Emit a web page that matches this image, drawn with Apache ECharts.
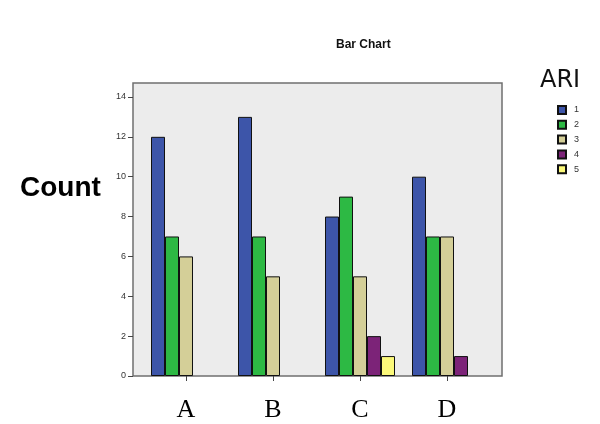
<!DOCTYPE html>
<html>
<head>
<meta charset="utf-8">
<script src="https://cdn.jsdelivr.net/npm/echarts@6/dist/echarts.min.js"></script>
<style>
  html, body { margin: 0; padding: 0; background: #fff; }
  #chart { width: 600px; height: 424px; }
</style>
</head>
<body>
<div id="chart"></div>
<script>
// groups on the x axis
const categories = ['A', 'B', 'C', 'D'];
// ARI levels
const ariNames = ['1', '2', '3', '4', '5'];
const ari1 = [12, 13, 8, 10];
const ari2 = [7, 7, 9, 7];
const ari3 = [6, 5, 5, 7];
const ari4 = ['-', '-', 2, 1];
const ari5 = ['-', '-', 1, '-'];
const yTicks = [0, 2, 4, 6, 8, 10, 12, 14];

const colors = ['#3d55a9', '#2db944', '#d4cf98', '#7c2378', '#fbf97a'];
const seriesData = [ari1, ari2, ari3, ari4, ari5];

const chart = echarts.init(document.getElementById('chart'));

chart.setOption({
  animation: false,
  title: [
    { text: 'Bar Chart', left: 331, top: 34,
      textStyle: { fontFamily: 'Arial', fontSize: 12, fontWeight: 'bold', color: '#111' } },
    { text: 'Count', left: 15, top: 169,
      textStyle: { fontFamily: 'Arial', fontSize: 28, fontWeight: 'bold', color: '#000' } },
    { text: 'ARI', left: 535, top: 64,
      textStyle: { fontFamily: 'DejaVu Sans', fontSize: 24, fontWeight: 'normal', color: '#111' } }
  ],
  legend: {
    orient: 'vertical',
    left: 552,
    top: 100,
    itemWidth: 8,
    itemHeight: 8,
    itemGap: 4.8,
    icon: 'rect',
    textStyle: { fontFamily: 'Arial', fontSize: 9, color: '#333', padding: [0, 0, 0, 3] },
    data: ariNames
  },
  grid: [
    // data grid
    { left: 142.5, right: 109.5, top: 83, bottom: 48 },
    // plot frame
    { left: 133, right: 98, top: 83, bottom: 48, show: true,
      backgroundColor: '#ececec', borderColor: '#6f6f6f', borderWidth: 1.5, z: -1 }
  ],
  xAxis: [
    {
      type: 'category',
      data: categories,
      gridIndex: 0,
      axisLine: { show: false },
      axisTick: { show: true, alignWithLabel: true, length: 5, lineStyle: { color: '#444' } },
      axisLabel: { fontFamily: 'Liberation Serif', fontSize: 26, color: '#000', margin: 21 }
    },
    { type: 'value', gridIndex: 1, show: false }
  ],
  yAxis: [
    {
      type: 'value',
      gridIndex: 0,
      min: 0,
      max: 14.7,
      offset: 9.5,
      splitLine: { show: false },
      axisLine: { show: false },
      axisTick: { show: true, length: 5, customValues: yTicks, lineStyle: { color: '#444' } },
      axisLabel: { customValues: yTicks, fontFamily: 'Arial', fontSize: 9, color: '#333', margin: 7 }
    },
    { type: 'value', gridIndex: 1, show: false }
  ],
  series: seriesData.map((d, i) => ({
    name: ariNames[i],
    type: 'bar',
    xAxisIndex: 0,
    yAxisIndex: 0,
    data: d,
    barWidth: 14,
    barGap: '0%',
    itemStyle: { color: colors[i], borderColor: '#111', borderWidth: 1 }
  }))
});
</script>
</body>
</html>
